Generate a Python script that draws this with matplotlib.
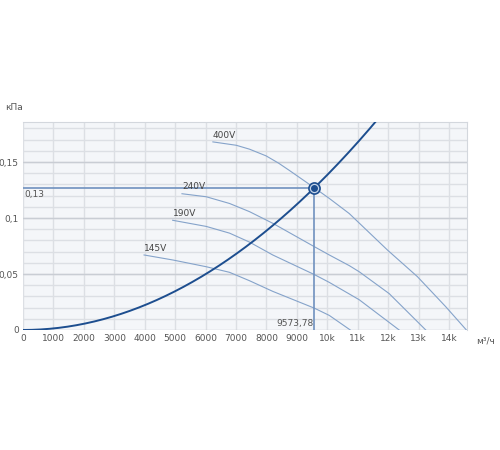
import numpy as np
import matplotlib
matplotlib.use('Agg')
import matplotlib.pyplot as plt

# operating point
q_op = 9573.78
p_op = 0.127

# fan curves (m3/h, kPa)
fan_labels = ["400V", "240V", "190V", "145V"]
fan_q = [
    [6240, 7006, 7443, 7990, 8400, 8754, 9574, 10066, 10721, 11977, 12962, 13891, 14570],
    [5224, 6022, 6787, 7443, 8207, 9574, 10066, 10721, 11049, 12033, 13235],
    [4918, 6022, 6787, 7443, 8207, 9574, 10066, 11049, 12361],
    [3978, 4929, 6022, 6787, 7443, 8207, 9574, 10066, 10754],
]
fan_p = [
    [0.168, 0.165, 0.1615, 0.1555, 0.149, 0.1425, 0.127, 0.1175, 0.104, 0.0714, 0.0476, 0.0208, 0.0],
    [0.1217, 0.119, 0.113, 0.1057, 0.0953, 0.0744, 0.067, 0.0575, 0.052, 0.0325, 0.0],
    [0.098, 0.0925, 0.0865, 0.0785, 0.067, 0.0495, 0.0425, 0.027, 0.0],
    [0.067, 0.0625, 0.0565, 0.0515, 0.044, 0.0345, 0.0195, 0.013, 0.0],
]

xticks = list(range(0, 15000, 1000))
xtick_labels = ["0", "1000", "2000", "3000", "4000", "5000", "6000", "7000",
                "8000", "9000", "10k", "11k", "12k", "13k", "14k"]
yticks = [0, 0.05, 0.1, 0.15]
ytick_labels = ["0", "0,05", "0,1", "0,15"]

xmax = 14600
ymax = 0.1855

fig = plt.figure(figsize=(5, 4.5), dpi=100)
ax = fig.add_axes([0.046, 0.2667, 0.8886, 0.4615])
ax.set_facecolor('#f4f6f9')
ax.set_xlim(0, xmax)
ax.set_ylim(0, ymax)

# grid
for x in xticks:
    ax.axvline(x, color='#dcdfe4', lw=1, zorder=0)
for y in np.arange(0.01, 0.19, 0.01):
    ax.axhline(y, color='#dcdfe4', lw=1, zorder=0)
for y in yticks:
    ax.axhline(y, color='#c9cdd4', lw=1, zorder=0)

for s in ax.spines.values():
    s.set_visible(False)
ax.spines['top'].set_visible(True)
ax.spines['right'].set_visible(True)
ax.spines['top'].set_color('#d3d7dd')
ax.spines['right'].set_color('#d3d7dd')

# fan curves
for lab, q, p in zip(fan_labels, fan_q, fan_p):
    ax.plot(q, p, color='#85a3ca', lw=0.8, zorder=2)
    ax.text(q[0], p[0] + 0.002, lab, fontsize=6.5, color='#444444',
            ha='left', va='bottom')

# system curve
k = p_op / q_op ** 2
qs = np.linspace(0, xmax, 300)
ax.plot(qs, k * qs ** 2, color='#1d4e8f', lw=1.4, zorder=3)

# operating point lines
ax.plot([0, q_op], [p_op, p_op], color='#6f91bf', lw=1.2, zorder=2)
ax.plot([q_op, q_op], [0, p_op], color='#6f91bf', lw=1.2, zorder=2)
ax.plot(q_op, p_op, 'o', ms=8, mfc='#c7d6ea', mec='#1d4e8f', mew=1.2, zorder=4)
ax.plot(q_op, p_op, 'o', ms=4, color='#1d4e8f', zorder=5)

ax.text(60, p_op - 0.002, "0,13", fontsize=6.5, color='#555555', ha='left', va='top')
ax.text(q_op - 30, 0.0015, "9573,78", fontsize=6.5, color='#555555', ha='right', va='bottom')

ax.set_xticks(xticks)
ax.set_xticklabels(xtick_labels)
ax.set_yticks(yticks)
ax.set_yticklabels(ytick_labels)
ax.tick_params(length=0, labelsize=6.5, labelcolor='#555555', pad=3)

fig.text(0.01, 0.762, "кПа", fontsize=6.5, color='#555555', ha='left', va='center')
fig.text(0.99, 0.242, "м³/ч", fontsize=6.5, color='#555555', ha='right', va='center')

plt.savefig("out.png", dpi=100)
